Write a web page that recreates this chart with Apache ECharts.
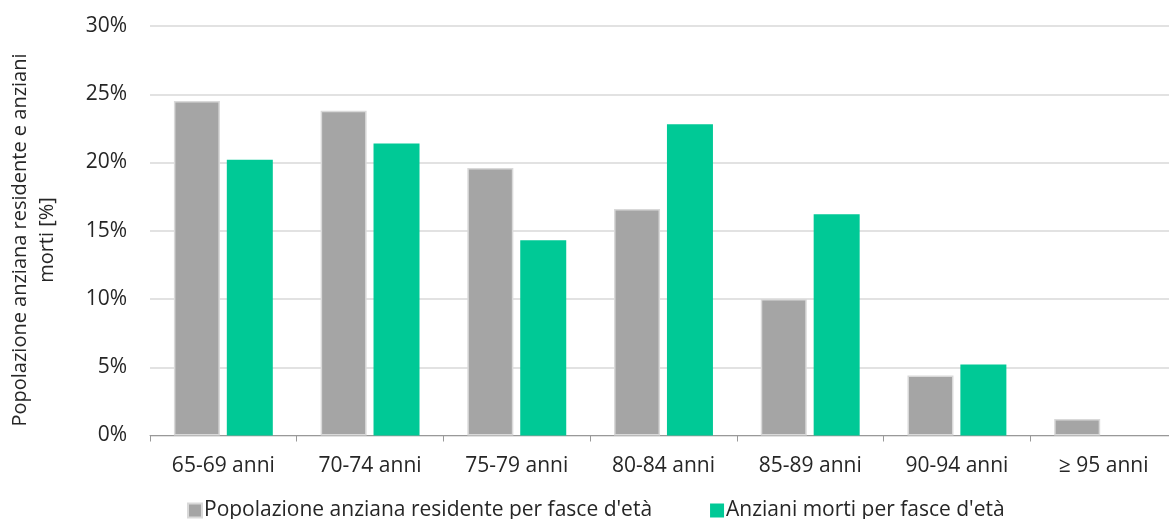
<!DOCTYPE html>
<html>
<head>
<meta charset="utf-8">
<script src="https://cdn.jsdelivr.net/npm/echarts@6/dist/echarts.min.js"></script>
<style>html,body{margin:0;padding:0;background:#fff}#c{width:1169px;height:519px}</style>
</head>
<body>
<div id="c"></div>
<script>
const categories = ['65-69 anni','70-74 anni','75-79 anni','80-84 anni','85-89 anni','90-94 anni','\u2265 95 anni'];
const residenti = [24.5, 23.8, 19.6, 16.6, 10.0, 4.4, 1.2];
const morti = [20.2, 21.4, 14.3, 22.8, 16.2, 5.2, 0];
const seriesNames = ["Popolazione anziana residente per fasce d'et\u00e0", "Anziani morti per fasce d'et\u00e0"];
const yTitle = ['Popolazione anziana residente e anziani', 'morti [%]'];

const FONT = 'Open Sans';
const TXT = '#262626';
const chart = echarts.init(document.getElementById('c'), null, {renderer: 'canvas'});
chart.setOption({
  animation: false,
  textStyle: {fontFamily: FONT},
  grid: {left: 150, width: 1027, top: 26, height: 409.5, containLabel: false, outerBoundsMode: 'none'},
  legend: {
    left: 182, top: 495,
    itemWidth: 14, itemHeight: 14, itemGap: 58,
    icon: 'rect',
    textStyle: {fontFamily: FONT, fontSize: 21, color: TXT, padding: [0,0,0,-3]},
    data: seriesNames
  },
  xAxis: {
    type: 'category',
    data: categories,
    axisLine: {lineStyle: {color: '#999', width: 1}},
    axisTick: {show: true, interval: 0, length: 6, lineStyle: {color: '#999'}},
    axisLabel: {fontFamily: FONT, fontSize: 21, color: TXT, margin: 20, interval: 0}
  },
  yAxis: {
    type: 'value',
    min: 0, max: 30, interval: 5,
    axisLine: {show: false},
    axisTick: {show: false},
    axisLabel: {formatter: '{value}%', fontFamily: FONT, fontSize: 21, color: TXT, margin: 23},
    splitLine: {lineStyle: {color: '#d9d9d9', width: 1.5}}
  },
  graphic: [{
    type: 'text',
    x: 34, y: 240,
    rotation: Math.PI / 2,
    style: {
      text: yTitle.join('\n'),
      font: '20px "Open Sans"',
      fill: TXT,
      align: 'center',
      verticalAlign: 'middle',
      lineHeight: 27
    }
  }],
  series: [
    {
      name: seriesNames[0], type: 'bar', data: residenti,
      barWidth: 46, barGap: '15%',
      itemStyle: {color: '#a5a5a5', borderColor: '#d9d9d9', borderWidth: 1.5}
    },
    {
      name: seriesNames[1], type: 'bar', data: morti,
      barWidth: 46,
      itemStyle: {color: '#00c996'}
    }
  ]
});
</script>
</body>
</html>
